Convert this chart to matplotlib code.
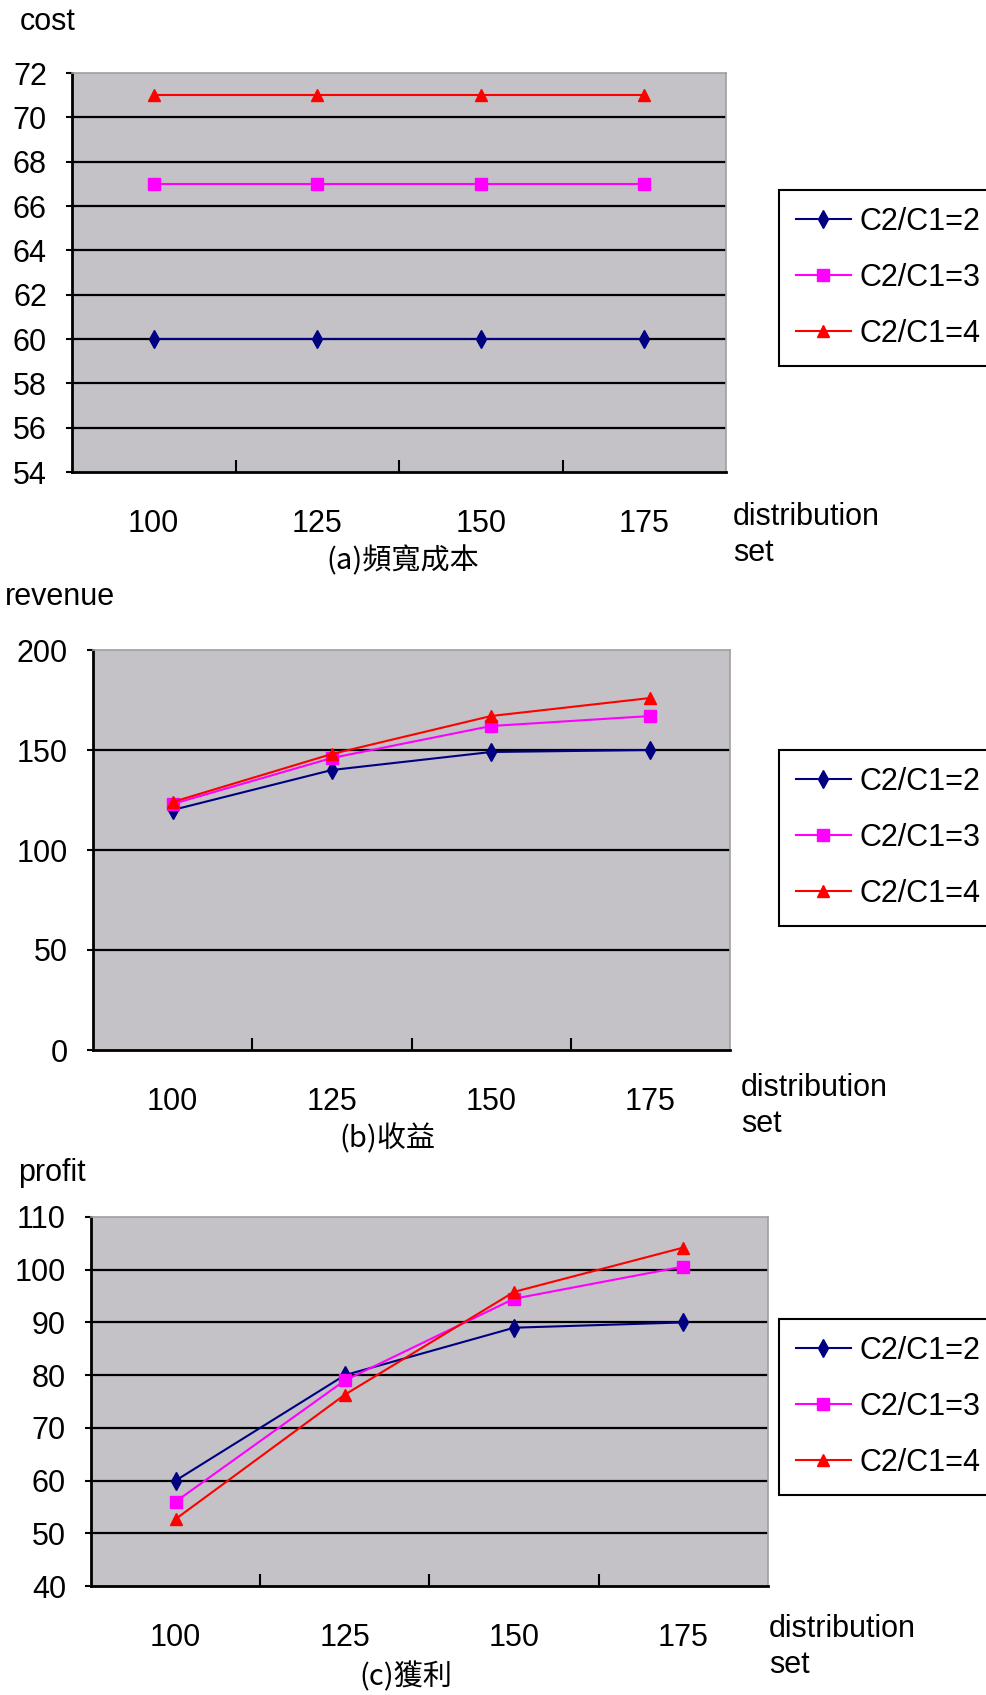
import matplotlib.pyplot as plt
import numpy as np

plt.rcParams['font.family'] = ['Liberation Sans', 'DejaVu Sans']

W, H = 987, 1695

distribution = ['100', '125', '150', '175']
series_names = ['C2/C1=2', 'C2/C1=3', 'C2/C1=4']

cost = [[60, 60, 60, 60],
        [67, 67, 67, 67],
        [71, 71, 71, 71]]
revenue = [[120, 140, 149, 150],
           [123, 146, 162, 167],
           [124, 148, 167, 176]]
profit = [[60, 80, 89, 90],
          [56, 79, 94.5, 100.6],
          [52.7, 76.3, 95.8, 104.2]]

cost_ticks = np.arange(54, 73, 2)
revenue_ticks = np.arange(0, 201, 50)
profit_ticks = np.arange(40, 111, 10)

colors = ['#000080', '#ff00ff', '#ff0000']
markers = ['d', 's', '^']
msizes = [9, 8, 9]


def rect(l, t, r, b):
    return [l / W, 1 - b / H, (r - l) / W, (b - t) / H]


def panel(fig, box, data, yticks, ylabel, ylabel_xy, caption, caption_xy,
          dist_xy, legend_xy):
    ax = fig.add_axes(rect(*box))
    ax.set_facecolor('#c4c2c6')
    x = np.arange(len(distribution))
    lines = []
    for vals, c, m, ms, name in zip(data, colors, markers, msizes, series_names):
        ln, = ax.plot(x, vals, color=c, marker=m, markersize=ms, lw=1.5,
                      label=name, zorder=3)
        lines.append(ln)
    for v in yticks[1:-1]:
        ax.axhline(v, color='black', lw=1.6, zorder=1)
    ax.set_xlim(-0.5, len(distribution) - 0.5)
    ax.set_ylim(yticks[0], yticks[-1])
    ax.set_yticks(yticks)
    ax.set_yticklabels([str(v) for v in yticks])
    ax.tick_params(axis='y', direction='out', length=4, width=1.5, pad=14,
                   labelsize=22)
    ax.set_xticks(x)
    ax.set_xticklabels(distribution)
    ax.tick_params(axis='x', which='major', length=0, pad=27, labelsize=22)
    ax.set_xticks(x[:-1] + 0.5, minor=True)
    ax.tick_params(axis='x', which='minor', direction='in', length=9,
                   width=1.5, color='black')
    for s in ['left', 'bottom']:
        ax.spines[s].set_linewidth(2)
        ax.spines[s].set_color('black')
    for s in ['top', 'right']:
        ax.spines[s].set_linewidth(1.2)
        ax.spines[s].set_color('#a0a0a0')

    fig.text(ylabel_xy[0] / W, 1 - ylabel_xy[1] / H, ylabel, fontsize=22,
             ha='left', va='center')
    fig.text(dist_xy[0] / W, 1 - dist_xy[1] / H, 'distribution\nset',
             fontsize=22, ha='left', va='top', linespacing=1.25)
    fig.text(caption_xy[0] / W, 1 - caption_xy[1] / H, caption, fontsize=21,
             ha='center', va='center',
             family=['Noto Sans CJK TC', 'DejaVu Sans'])
    leg = ax.legend(handles=lines, loc='upper left',
                    bbox_to_anchor=(legend_xy[0] / W, 1 - legend_xy[1] / H),
                    bbox_transform=fig.transFigure, fontsize=22,
                    frameon=True, fancybox=False, edgecolor='black',
                    framealpha=1, handlelength=1.8, handletextpad=0.3,
                    labelspacing=0.85, borderpad=0.55, borderaxespad=0)
    leg.get_frame().set_linewidth(1.5)
    return ax


fig = plt.figure(figsize=(W / 100, H / 100), dpi=100)

panel(fig, (72, 73, 726, 472), cost, cost_ticks, 'cost', (20, 22),
      '(a)頻寬成本', (403, 561), (733, 502), (779, 190))
panel(fig, (93, 650, 730, 1050), revenue, revenue_ticks, 'revenue', (5, 597),
      '(b)收益', (387, 1139), (741, 1073), (779, 750))
panel(fig, (91, 1217, 768, 1586), profit, profit_ticks, 'profit', (18, 1173),
      '(c)獲利', (406, 1677), (769, 1614), (779, 1319))

fig.savefig('out.png', dpi=100)
